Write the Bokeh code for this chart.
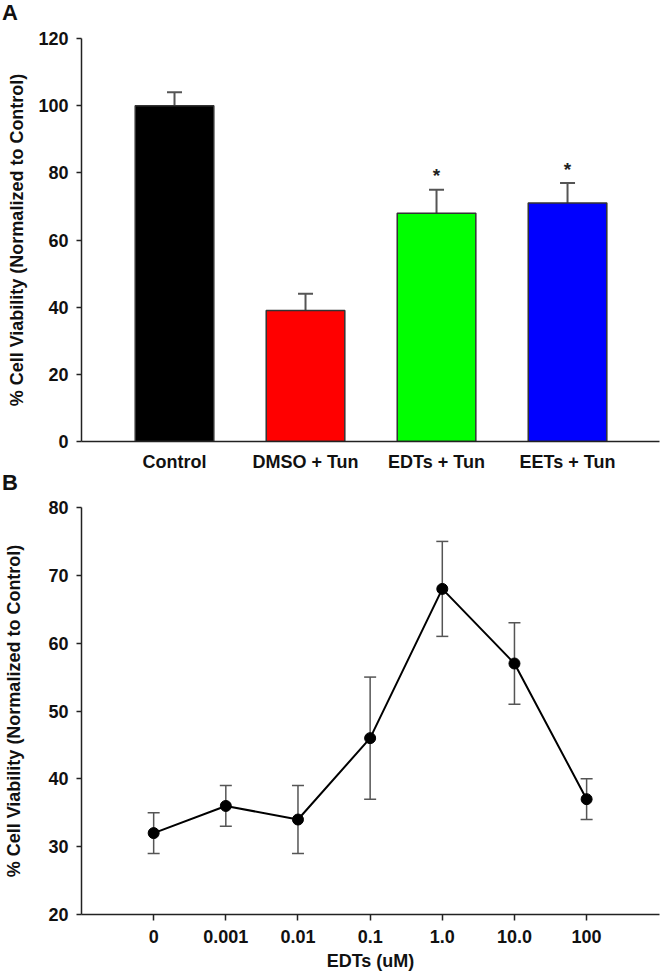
from bokeh.plotting import figure
from bokeh.models import ColumnDataSource, Whisker, TeeHead, FixedTicker, Range1d, Div
from bokeh.layouts import column
from bokeh.embed import file_html
from bokeh.resources import INLINE
from bokeh.core.properties import value

FONT = "Liberation Sans"

# ---- Panel A data ----
groups = ["Control", "DMSO + Tun", "EDTs + Tun", "EETs + Tun"]
viability = [100, 39, 68, 71]
viability_err = [4, 5, 7, 6]
bar_colors = ["#000000", "#ff0000", "#00ff00", "#0000ff"]
significance = ["", "", "*", "*"]
y_ticks_a = [0, 20, 40, 60, 80, 100, 120]

# ---- Panel B data ----
doses = ["0", "0.001", "0.01", "0.1", "1.0", "10.0", "100"]
dose_viability = [32, 36, 34, 46, 68, 57, 37]
dose_err = [3, 3, 5, 9, 7, 6, 3]
y_ticks_b = [20, 30, 40, 50, 60, 70, 80]

YLABEL = "% Cell Viability (Normalized to Control)"
AX = "#222222"
TXT = "#111111"


def style(p):
    p.outline_line_color = None
    p.xgrid.visible = False
    p.ygrid.visible = False
    for ax in (p.xaxis[0], p.yaxis[0]):
        ax.axis_line_color = AX
        ax.axis_line_width = 1.5
        ax.major_tick_line_color = AX
        ax.major_tick_line_width = 1.5
        ax.minor_tick_line_color = None
        ax.major_tick_in = 0
        ax.major_label_text_font = FONT
        ax.major_label_text_font_style = "bold"
        ax.major_label_text_font_size = "18px"
        ax.major_label_text_color = TXT
        ax.axis_label_text_font = FONT
        ax.axis_label_text_font_style = "bold"
        ax.axis_label_text_font_size = "18px"
        ax.axis_label_text_color = TXT
    p.yaxis[0].major_tick_out = 5
    p.yaxis[0].major_label_standoff = 8


def panel_label(txt, h, lh):
    return Div(text=txt, width=664, height=h, margin=(0, 0, 0, 0),
               styles={"font-family": FONT, "font-weight": "bold", "font-size": "22px",
                       "line-height": f"{lh}px", "color": TXT, "padding-left": "2px"})


W = 664

# ================= Panel A =================
xa = list(range(1, len(groups) + 1))
srcA = ColumnDataSource(dict(
    x=xa,
    top=viability,
    upper=[v + e for v, e in zip(viability, viability_err)],
    color=bar_colors,
))
pA = figure(width=W, height=446, x_range=Range1d(0.29, 4.702), y_range=Range1d(0, 120),
            output_backend="svg", toolbar_location=None,
            min_border_left=81, min_border_right=5, min_border_top=10, min_border_bottom=33)
pA.add_layout(Whisker(source=srcA, base="x", lower="top", upper="upper",
                      line_color="#555555", line_width=2,
                      upper_head=TeeHead(size=15, line_color="#555555", line_width=2),
                      lower_head=None))
pA.vbar(x="x", top="top", bottom=0, width=0.6, fill_color="color",
        line_color="#333333", line_width=1.5, source=srcA)

star_x = [x for x, s in zip(xa, significance) if s]
star_y = [v + e + 5 for v, e, s in zip(viability, viability_err, significance) if s]
star_t = [s for s in significance if s]
pA.text(x=star_x, y=star_y, text=star_t, text_font=value(FONT), text_font_style="bold",
        text_font_size="19px", text_color="#222222", text_align="center",
        text_baseline="alphabetic", y_offset=3)

style(pA)
pA.xaxis[0].ticker = FixedTicker(ticks=xa)
pA.xaxis[0].major_label_overrides = {x: g for x, g in zip(xa, groups)}
pA.xaxis[0].major_tick_out = 0
pA.xaxis[0].major_label_standoff = 10
pA.yaxis[0].ticker = FixedTicker(ticks=y_ticks_a)
pA.yaxis[0].axis_label = YLABEL
pA.yaxis[0].axis_label_standoff = 8

# ================= Panel B =================
xb = list(range(len(doses)))
srcB = ColumnDataSource(dict(
    x=xb,
    y=dose_viability,
    lo=[v - e for v, e in zip(dose_viability, dose_err)],
    hi=[v + e for v, e in zip(dose_viability, dose_err)],
))
pB = figure(width=W, height=477, x_range=Range1d(-1.0, 7.01), y_range=Range1d(20, 80),
            output_backend="svg", toolbar_location=None,
            min_border_left=80, min_border_right=1, min_border_top=9, min_border_bottom=61)
pB.add_layout(Whisker(source=srcB, base="x", lower="lo", upper="hi",
                      line_color="#555555", line_width=1.5,
                      upper_head=TeeHead(size=12, line_color="#555555", line_width=1.5),
                      lower_head=TeeHead(size=12, line_color="#555555", line_width=1.5)))
pB.line(x="x", y="y", line_color="#000000", line_width=2, source=srcB)
pB.scatter(x="x", y="y", size=11, marker="circle", fill_color="#000000",
           line_color="#000000", source=srcB)

style(pB)
pB.xaxis[0].ticker = FixedTicker(ticks=xb)
pB.xaxis[0].major_label_overrides = {x: d for x, d in zip(xb, doses)}
pB.xaxis[0].major_tick_out = 6
pB.xaxis[0].major_label_standoff = 9
pB.xaxis[0].axis_label = "EDTs (uM)"
pB.xaxis[0].axis_label_standoff = 5
pB.yaxis[0].ticker = FixedTicker(ticks=y_ticks_b)
pB.yaxis[0].axis_label = YLABEL
pB.yaxis[0].axis_label_standoff = 21

layout = column(panel_label("A", 28, 26), pA, panel_label("B", 24, 18), pB, spacing=0)
open("out.html", "w").write(file_html(layout, INLINE))
